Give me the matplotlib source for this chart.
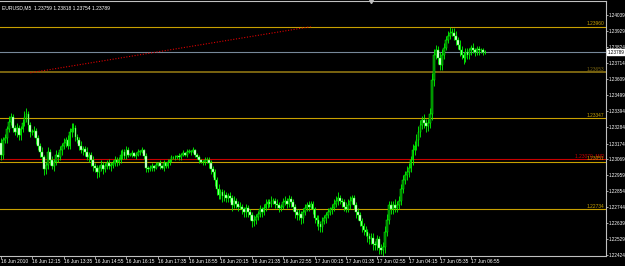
import numpy as np
import matplotlib
matplotlib.use("Agg")
import matplotlib.pyplot as plt

# ---------------- DATA ----------------
header_text = "EURUSD,M5  1.23759 1.23818 1.23754 1.23789"

first_open = 1.2318
closes = [
    1.2310, 1.2320, 1.2321, 1.2327, 1.2332, 1.2335, 1.2328, 1.2325, 1.2328, 1.2323,
    1.2327, 1.2331, 1.2335, 1.2337, 1.2330, 1.2325, 1.2325, 1.2326, 1.2321, 1.2316,
    1.2312, 1.2308, 1.2300, 1.2303, 1.2312, 1.2306, 1.2302, 1.2305, 1.2310, 1.2308,
    1.2313, 1.2316, 1.2318, 1.2320, 1.2316, 1.2325, 1.2327, 1.2328, 1.2322, 1.2320,
    1.2316, 1.2313, 1.2314, 1.2312, 1.2308, 1.2310, 1.2306, 1.2302, 1.2301, 1.2298,
    1.2301, 1.2303, 1.2300, 1.2302, 1.2304, 1.2302, 1.2303, 1.2304, 1.2306, 1.2305,
    1.2306, 1.2310, 1.2312, 1.2309, 1.2313, 1.2310, 1.2310, 1.2311, 1.2309, 1.2310,
    1.2312, 1.2312, 1.2313, 1.2309, 1.2301, 1.2300, 1.2301, 1.2302, 1.2301, 1.2303,
    1.2304, 1.2302, 1.2301, 1.2304, 1.2302, 1.2305, 1.2306, 1.2308, 1.2308, 1.2308,
    1.2309, 1.2308, 1.2310, 1.2311, 1.2310, 1.2312, 1.2312, 1.2312, 1.2313, 1.2310,
    1.2308, 1.2306, 1.2305, 1.2305, 1.2306, 1.2306, 1.2304, 1.2300, 1.2298, 1.2293,
    1.2287, 1.2283, 1.2285, 1.2282, 1.2283, 1.2281, 1.2282, 1.2281, 1.2276, 1.2279,
    1.2277, 1.2275, 1.2275, 1.2273, 1.2271, 1.2274, 1.2271, 1.2269, 1.2265, 1.2266,
    1.2268, 1.2270, 1.2273, 1.2271, 1.2274, 1.2277, 1.2278, 1.2277, 1.2279, 1.2279,
    1.2277, 1.2276, 1.2274, 1.2275, 1.2278, 1.2279, 1.2277, 1.2280, 1.2278, 1.2275,
    1.2271, 1.2269, 1.2270, 1.2267, 1.2271, 1.2274, 1.2276, 1.2275, 1.2277, 1.2273,
    1.2267, 1.2266, 1.2263, 1.2261, 1.2265, 1.2267, 1.2269, 1.2271, 1.2273, 1.2274,
    1.2277, 1.2279, 1.2281, 1.2279, 1.2278, 1.2275, 1.2273, 1.2276, 1.2279, 1.2281,
    1.2276, 1.2271, 1.2269, 1.2265, 1.2262, 1.2259, 1.2258, 1.2255, 1.2253, 1.2254,
    1.2250, 1.2249, 1.2253, 1.2247, 1.2246, 1.2248, 1.2258, 1.2266, 1.2276, 1.2273,
    1.2276, 1.2274, 1.2276, 1.2279, 1.2287, 1.2293, 1.2296, 1.2298, 1.2301, 1.2306,
    1.2313, 1.2316, 1.2320, 1.2325, 1.2330, 1.2333, 1.2331, 1.2329, 1.2331, 1.2337,
    1.2360, 1.2377, 1.2380, 1.2375, 1.2370, 1.2377, 1.2382, 1.2387, 1.2390, 1.2392,
    1.2392, 1.2390, 1.2387, 1.2384, 1.2380, 1.2377, 1.2375, 1.2379, 1.2377, 1.2380,
    1.2382, 1.2380, 1.2379, 1.2381, 1.2380, 1.2380, 1.2379, 1.23789,
]
# wick lengths above / below the candle body, in pips
wick_up = [
    3, 2, 3, 2, 4, 3, 2, 2, 3, 2,  2, 3, 4, 4, 2, 2, 2, 3, 2, 2,
    2, 3, 2, 2, 3, 2, 3, 2, 3, 2,  3, 2, 3, 2, 3, 3, 4, 3, 2, 2,
    2, 3, 2, 2, 3, 2, 2, 3, 2, 2,  2, 3, 2, 2, 2, 3, 2, 2, 3, 2,
    2, 3, 2, 2, 3, 2, 1, 2, 1, 2,  2, 1, 2, 1, 2, 1, 2, 2, 1, 2,
    1, 2, 1, 2, 1, 2, 1, 2, 1, 2,  1, 2, 1, 2, 1, 2, 2, 1, 2, 1,
    1, 2, 1, 1, 2, 2, 2, 2, 2, 2,  2, 3, 2, 2, 3, 2, 2, 3, 2, 3,
    2, 2, 3, 2, 2, 3, 2, 2, 2, 3,  2, 2, 3, 2, 3, 3, 2, 2, 3, 2,
    2, 3, 2, 2, 3, 3, 2, 3, 2, 2,  2, 2, 3, 2, 3, 3, 2, 3, 2, 2,
    2, 2, 3, 2, 3, 2, 2, 3, 2, 3,  3, 3, 4, 2, 2, 2, 3, 4, 3, 2,
    2, 2, 3, 2, 2, 2, 3, 2, 2, 3,  3, 2, 3, 2, 3, 3, 4, 4, 3, 3,
    3, 4, 3, 3, 3, 3, 3, 4, 3, 3,  4, 3, 4, 4, 3, 3, 4, 3, 3, 4,
    5, 4, 4, 3, 4, 4, 3, 3, 3, 4,  3, 3, 3, 2, 3, 3, 2, 3, 3, 2,
    2, 3, 2, 2, 2, 2, 2, 1,
]
wick_dn = [
    4, 3, 2, 3, 2, 2, 3, 2, 3, 3,  3, 2, 2, 3, 4, 3, 2, 3, 4, 3,
    4, 3, 4, 3, 3, 3, 2, 3, 2, 3,  2, 3, 2, 3, 2, 2, 3, 2, 3, 2,
    3, 2, 3, 3, 2, 3, 4, 3, 3, 4,  3, 2, 3, 2, 2, 2, 3, 2, 2, 3,
    2, 2, 3, 2, 2, 2, 1, 2, 1, 2,  1, 2, 1, 2, 3, 2, 1, 2, 2, 1,
    1, 2, 1, 2, 1, 1, 2, 1, 1, 2,  1, 2, 2, 1, 1, 2, 1, 2, 1, 2,
    1, 2, 1, 2, 2, 2, 3, 3, 3, 4,  4, 3, 3, 4, 3, 3, 3, 3, 4, 2,
    3, 3, 2, 3, 3, 3, 3, 3, 4, 3,  3, 2, 2, 3, 2, 2, 3, 2, 2, 2,
    3, 2, 3, 2, 2, 2, 3, 2, 3, 3,  4, 3, 3, 4, 3, 2, 2, 3, 2, 3,
    3, 4, 4, 3, 3, 2, 3, 2, 2, 3,  2, 2, 3, 2, 3, 3, 2, 2, 3, 2,
    3, 4, 3, 3, 4, 3, 3, 4, 3, 3,  4, 3, 3, 4, 3, 4, 4, 3, 3, 3,
    3, 3, 3, 3, 3, 3, 3, 3, 3, 3,  3, 3, 3, 4, 3, 3, 3, 4, 3, 3,
    4, 4, 3, 4, 3, 3, 3, 2, 2, 2,  2, 3, 3, 3, 4, 3, 4, 3, 3, 3,
    3, 2, 3, 2, 3, 2, 2, 1,
]
pip = 0.0001

price_ticks = [1.24039, 1.23929, 1.23824, 1.23714, 1.23609, 1.23499, 1.23394, 1.23284,
               1.23174, 1.23069, 1.22959, 1.22854, 1.22744, 1.22639, 1.22529, 1.22424]
time_labels = ["16 Jun 2010", "16 Jun 12:15", "16 Jun 13:35", "16 Jun 14:55",
               "16 Jun 16:15", "16 Jun 17:35", "16 Jun 18:55", "16 Jun 20:15",
               "16 Jun 21:35", "16 Jun 22:55", "17 Jun 00:15", "17 Jun 01:35",
               "17 Jun 02:55", "17 Jun 04:15", "17 Jun 05:35", "17 Jun 06:55"]
bars_per_label = 16

level_prices = [1.23960, 1.23653, 1.23347, 1.23070, 1.23051, 1.22734]
level_labels = ["1.23960", "1.23653", "1.23347", "1.23070, MID", "1.23051", "1.22734"]
level_colors = ["#c8a000", "#7a6410", "#c8a000", "#c80000", "#c8a000", "#c8a000"]

trend_bars = [15, 158]
trend_prices = [1.2365, 1.2396]
shift_bar = 189

y_range = (1.22417, 1.24133)
x_range = (-0.5, 308.7)

GREEN = "#00ff00"
AXIS = "#c0c0c0"
FS = 3.5

# ---------------- CHART ----------------
plt.rcParams["font.family"] = ["Liberation Sans", "DejaVu Sans"]

fig = plt.figure(figsize=(6.25, 2.66), dpi=100, facecolor="black")
ax = fig.add_axes([0, 10 / 266, 606 / 625, 255 / 266], facecolor="black")

closes = np.array(closes)
opens = np.concatenate([[first_open], closes[:-1]])
x = np.arange(len(closes))
body_lo = np.minimum(opens, closes)
body_hi = np.maximum(opens, closes)
highs = body_hi + np.array(wick_up) * pip
lows = body_lo - np.array(wick_dn) * pip

# levels
for price, label, color in zip(level_prices, level_labels, level_colors):
    lw = 1.4 if color == "#7a6410" else 0.8
    ax.axhline(price, color=color, lw=lw, zorder=1)
    ax.text(x_range[1] - 0.8, price + 0.00002, label, color=color, fontsize=FS,
            ha="right", va="bottom", zorder=3)

# bid line
ax.axhline(closes[-1], color="#778899", lw=0.8, zorder=1)

# trend line
ax.plot(trend_bars, trend_prices, color="#e00000", lw=0.8, ls=(0, (1, 1.5)), zorder=1)

# candles
ax.vlines(x, lows, highs, color=GREEN, lw=0.6, zorder=2)
up = closes >= opens
heights = np.maximum(body_hi - body_lo, 0.00002)
ax.bar(x[up], heights[up], bottom=body_lo[up], width=0.9, color="#007800",
       edgecolor=GREEN, linewidth=0.35, zorder=2)
ax.bar(x[~up], heights[~up], bottom=body_lo[~up], width=0.9, color="#ffffff",
       edgecolor=GREEN, linewidth=0.35, zorder=2)

ax.set_xlim(*x_range)
ax.set_ylim(*y_range)

# axes styling
ax.spines["left"].set_visible(False)
for side in ["top", "right", "bottom"]:
    ax.spines[side].set_color(AXIS)
    ax.spines[side].set_linewidth(0.8)

ax.yaxis.tick_right()
ax.set_yticks(price_ticks)
ax.set_yticklabels([f"{p:.5f}" for p in price_ticks])
ax.tick_params(axis="y", colors=AXIS, labelcolor="white", labelsize=3.3,
               length=1.5, width=0.6, pad=0.5)

ax.set_xticks(np.arange(len(time_labels)) * bars_per_label)
ax.set_xticklabels(time_labels, ha="left")
ax.tick_params(axis="x", colors=AXIS, labelcolor="white", labelsize=FS,
               length=2, width=0.6, pad=0.5)

# current price box
ax.text(1.003, closes[-1], f"{closes[-1]:.5f}", transform=ax.get_yaxis_transform(),
        fontsize=3.3, color="black", ha="left", va="center",
        bbox=dict(boxstyle="square,pad=0.15", facecolor="white", edgecolor="white"),
        clip_on=False, zorder=5)

# header
ax.text(0.003, 0.985, header_text, transform=ax.transAxes, color="white",
        fontsize=3.6, ha="left", va="top")

# chart shift marker
ax.plot([shift_bar], [y_range[1]], marker="v", color=AXIS, markersize=3,
        clip_on=False, zorder=5)

fig.savefig("out.png", dpi=100, facecolor="black")
